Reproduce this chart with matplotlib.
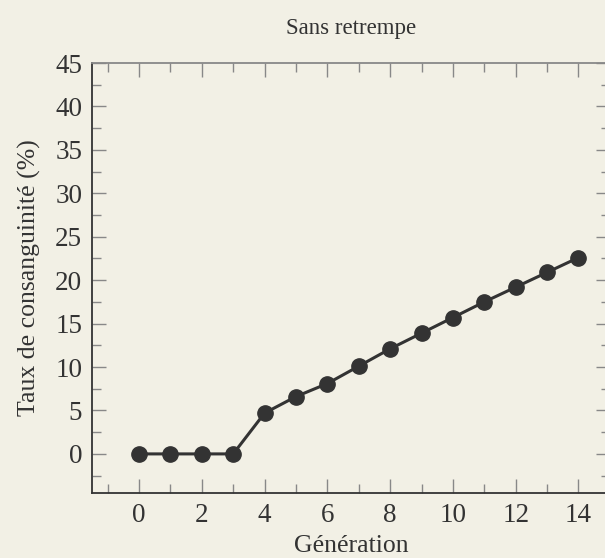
import matplotlib.pyplot as plt
from matplotlib.ticker import MultipleLocator

generations = [0, 1, 2, 3, 4, 5, 6, 7, 8, 9, 10, 11, 12, 13, 14]
taux = [0, 0, 0, 0, 4.7, 6.6, 8.1, 10.1, 12.1, 13.9, 15.7, 17.5, 19.2, 20.9, 22.6]

bg = '#f2f0e5'
ink = '#333333'
tick_grey = '#888888'

plt.rcParams['font.family'] = ['Liberation Serif', 'DejaVu Serif']

fig = plt.figure(figsize=(6.05, 5.58), dpi=100, facecolor=bg)
ax = fig.add_axes([0.152, 0.1165, 0.856, 0.7705], facecolor=bg)

ax.plot(generations, taux, color=ink, linewidth=2.2, marker='o', markersize=11)

ax.set_xlim(-1.5, 15)
ax.set_ylim(-4.5, 45)
ax.xaxis.set_major_locator(MultipleLocator(2))
ax.xaxis.set_minor_locator(MultipleLocator(1))
ax.yaxis.set_major_locator(MultipleLocator(5))
ax.yaxis.set_minor_locator(MultipleLocator(2.5))

ax.tick_params(which='both', direction='in', top=True, right=True,
               color=tick_grey, labelcolor=ink, labelsize=19.5, width=1)
ax.tick_params(which='major', length=10, pad=7)
ax.tick_params(which='minor', length=6.5)

for side in ('left', 'bottom'):
    ax.spines[side].set_color(ink)
    ax.spines[side].set_linewidth(1.3)
for side in ('top', 'right'):
    ax.spines[side].set_color(tick_grey)
    ax.spines[side].set_linewidth(1.3)

ax.set_title('Sans retrempe', fontsize=16.5, color=ink, pad=21)
ax.set_xlabel('Génération', fontsize=18.5, color=ink, labelpad=5.5)
ax.set_ylabel('Taux de consanguinité (%)', fontsize=18.5, color=ink, labelpad=10)

fig.savefig('out.png', dpi=100, facecolor=bg)
